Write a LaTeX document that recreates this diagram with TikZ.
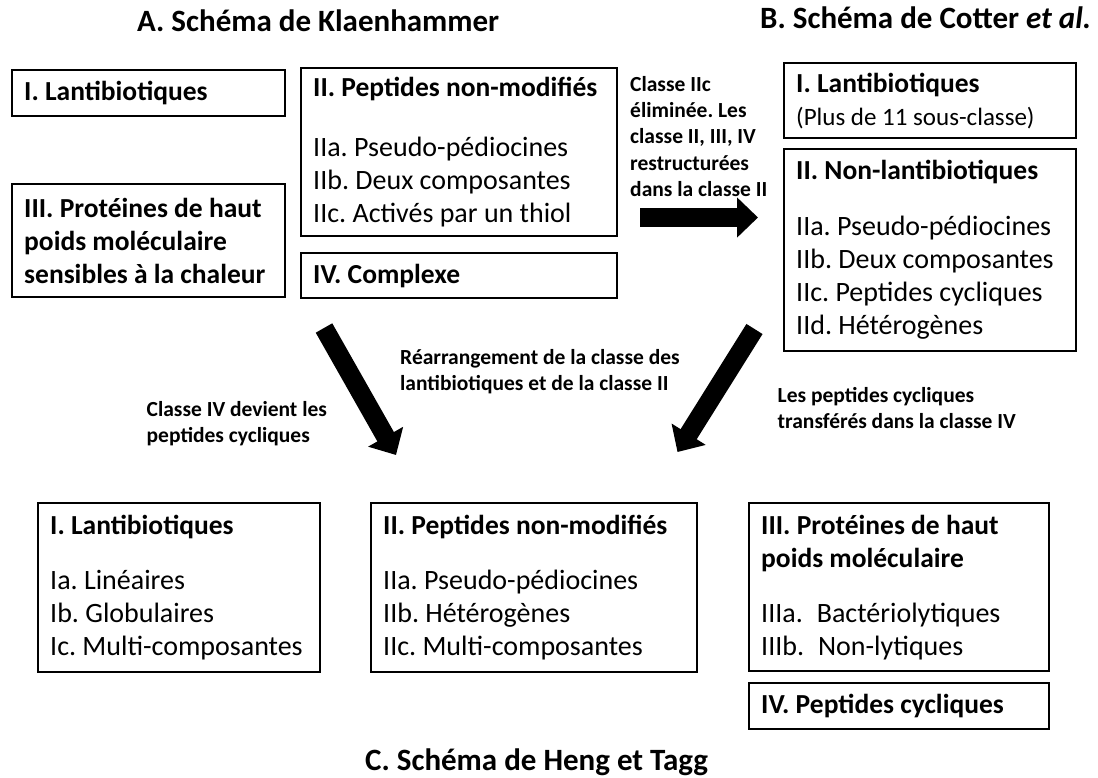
\documentclass[tikz,border=0pt]{standalone}
\usepackage{fontspec}
\setmainfont{Carlito}
\usetikzlibrary{arrows.meta,calc}
\newcommand{\hd}[1]{\mbox{\bfseries\fontsize{27.5}{33}\selectfont #1}}
\begin{document}
\frenchspacing
\begin{tikzpicture}[x=1pt,y=-1pt,
  box/.style={draw, line width=2.4pt, inner xsep=12pt, inner ysep=0pt, anchor=north west, align=flush left, font=\fontsize{28}{33}\selectfont},
  ttl/.style={font=\bfseries\fontsize{31}{36}\selectfont, inner sep=0pt, anchor=base west},
  lbl/.style={font=\bfseries\fontsize{21.5}{26.3}\selectfont, align=flush left, anchor=north west, inner sep=0pt},
  big/.style={line width=19pt, -{Triangle[width=39pt,length=21pt]}}]
\useasboundingbox (0,0) rectangle (1098,778);

% titles
\node[ttl] (ta) at (137,31.5) {A. Schéma de Klaenhammer};
\node[ttl] (tb) at (760,29) {B. Schéma de Cotter \textit{et al.}};
\node[ttl] (tc) at (365,770) {C. Schéma de Heng et Tagg};

% A boxes
\node[box, text width=249pt, minimum height=46pt] (a1) at (11,69) {\hd{I. Lantibiotiques}};
\node[box, text width=249pt, minimum height=113pt] (a3) at (11,183) {\hd{III. Protéines de haut}\\\hd{poids moléculaire}\\\hd{sensibles à la chaleur}};
\node[box, text width=292pt, minimum height=168pt] (a2) at (300,67) {\hd{II. Peptides non-modifiés}\\[27pt]IIa. Pseudo-pédiocines\\IIb. Deux composantes\\IIc. Activés par un thiol};
\node[box, text width=292pt, minimum height=45pt] (a4) at (300,252) {\hd{IV. Complexe}};

% B boxes
\node[box, text width=268pt, minimum height=75pt] (b1) at (783,62) {\hd{I. Lantibiotiques}\\{\fontsize{25}{30}\selectfont(Plus de 11 sous-classe)}};
\node[box, text width=268pt, minimum height=202pt] (b2) at (783,148) {\hd{II. Non-lantibiotiques}\\[23pt]IIa. Pseudo-pédiocines\\IIb. Deux composantes\\IIc. Peptides cycliques\\IId. Hétérogènes};

% C boxes
\node[box, text width=258pt, minimum height=169pt] (c1) at (37,502) {\hd{I. Lantibiotiques}\\[22pt]Ia. Linéaires\\Ib. Globulaires\\Ic. Multi-composantes};
\node[box, text width=302pt, minimum height=169pt] (c2) at (370,502) {\hd{II. Peptides non-modifiés}\\[22pt]IIa. Pseudo-pédiocines\\IIb. Hétérogènes\\IIc. Multi-composantes};
\node[box, text width=276pt, minimum height=168pt] (c3) at (748,502) {\hd{III. Protéines de haut}\\\hd{poids moléculaire}\\[22pt]IIIa.\hspace*{14pt}Bactériolytiques\\IIIb.\hspace*{14pt}Non-lytiques};
\node[box, text width=276pt, minimum height=46pt] (c4) at (748,682) {\hd{IV. Peptides cycliques}};

% labels
\node[lbl, text width=160pt] (l1) at (630,76) {Classe IIc\\éliminée. Les\\classe II, III, IV\\restructurées\\dans la classe II};
\node[lbl, text width=200pt] (l2) at (146.5,401) {Classe IV devient les\\peptides cycliques};
\node[lbl, text width=300pt] (l3) at (400,349) {Réarrangement de la classe des\\lantibiotiques et de la classe II};
\node[lbl, text width=270pt] (l4) at (777.5,387) {Les peptides cycliques\\transférés dans la classe IV};

% arrows
\coordinate (h1) at (640,217.5);
\coordinate (h2) at (758,217.5);
\coordinate (d1) at (324,328);
\coordinate (d2) at (396,455);
\coordinate (e1) at (754.5,329);
\coordinate (e2) at (677.5,452);
\draw[big] (h1) -- (h2);
\draw[big] (d1) -- (d2);
\draw[big] (e1) -- (e2);
\end{tikzpicture}
\end{document}
